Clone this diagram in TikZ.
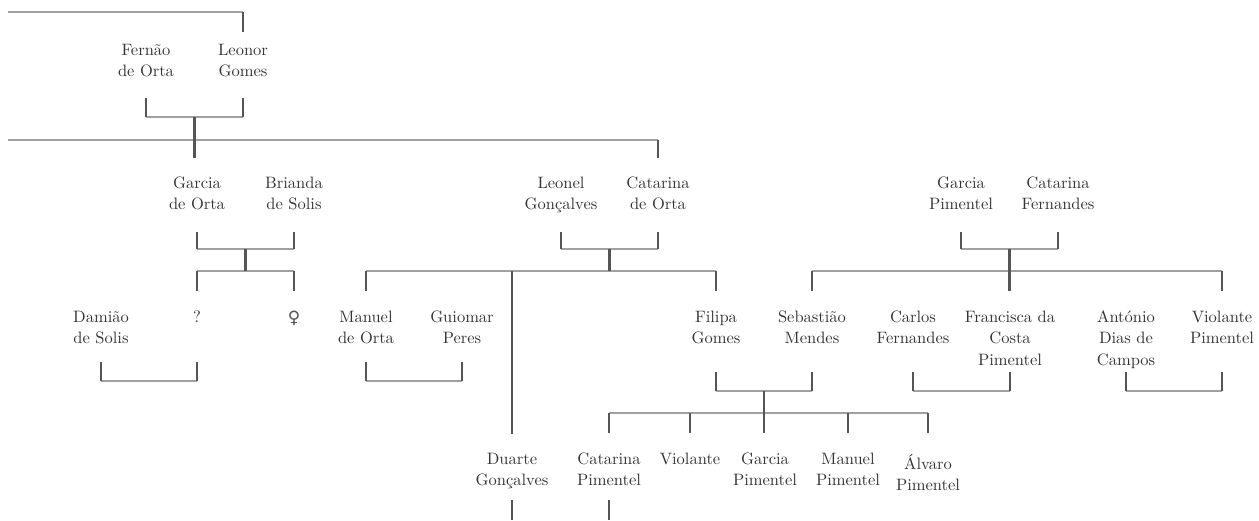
\documentclass[tikz,border=0pt]{standalone}
\usepackage{fontspec}
\setmainfont{lmroman10-regular.otf}
\newfontfamily\symfont{DejaVu Sans}
\usetikzlibrary{calc}
\definecolor{txt}{HTML}{333333}
\definecolor{hcol}{HTML}{A0A0A0}
\definecolor{vcol}{HTML}{555555}
\newcommand\fl{\rule{0pt}{14pt}}
\begin{document}
\begin{tikzpicture}[x=1pt,y=-1pt,
  person/.style={anchor=north,inner sep=0pt,align=center,text=txt,
    font=\fontsize{16.5}{21.5}\selectfont},
  hl/.style={draw=hcol,line width=2.5pt},
  vl/.style={draw=vcol,line width=2.7pt}]
\useasboundingbox (0,0) rectangle (1259,520);
% level coordinates
\foreach \v in {12,32,98,117,140,158,232,249,271,291,362,381,372,391,413,433,434,500,520}
  {\coordinate (L\v) at (0,\v);}
% persons (y = first baseline - 14)
\node[person] (fernao)   at (146,41)  {\fl Fernão\\de Orta};
\node[person] (leonor)   at (243,41)  {\fl Leonor\\Gomes};
\node[person] (garcia)   at (197,174) {\fl Garcia\\de Orta};
\node[person] (brianda)  at (294,174) {\fl Brianda\\de Solis};
\node[person] (leonel)   at (561,174) {\fl Leonel\\Gonçalves};
\node[person] (catorta)  at (658,174) {\fl Catarina\\de Orta};
\node[person] (garciap)  at (961,174) {\fl Garcia\\Pimentel};
\node[person] (catfern)  at (1058,174){\fl Catarina\\Fernandes};
\node[person] (damiao)   at (101,308) {\fl Damião\\de Solis};
\node[person] (unk)      at (197,308) {\fl ?};
\node[anchor=center,inner sep=0pt,text=txt!85,font=\symfont\fontsize{17}{17}\selectfont] (fem) at (294,318) {♀};
\node[person] (manuel)   at (366,308) {\fl Manuel\\de Orta};
\node[person] (guiomar)  at (462,308) {\fl Guiomar\\Peres};
\node[person] (filipa)   at (716,308) {\fl Filipa\\Gomes};
\node[person] (sebastiao)at (812,308) {\fl Sebastião\\Mendes};
\node[person] (carlos)   at (913,308) {\fl Carlos\\Fernandes};
\node[person] (francisca)at (1010,308){\fl Francisca da\\Costa\\Pimentel};
\node[person] (antonio)  at (1126,308){\fl António\\Dias de\\Campos};
\node[person] (violanteP)at (1222,308){\fl Violante\\Pimentel};
\node[person] (duarte)   at (512,450) {\fl Duarte\\Gonçalves};
\node[person] (catpim)   at (609,450) {\fl Catarina\\Pimentel};
\node[person] (violante) at (690,450) {\fl Violante};
\node[person] (garciapim)at (765,450) {\fl Garcia\\Pimentel};
\node[person] (manuelpim)at (848,450) {\fl Manuel\\Pimentel};
\node[person] (alvaro)   at (928,454) {\fl Álvaro\\Pimentel};
% midpoints
\coordinate (m1) at ($(fernao)!.5!(leonor)$);
\coordinate (m2) at ($(garcia)!.5!(brianda)$);
\coordinate (m3) at ($(leonel)!.5!(catorta)$);
\coordinate (m4) at ($(garciap)!.5!(catfern)$);
\coordinate (m5) at ($(filipa)!.5!(sebastiao)$);
\coordinate (topend) at (8,12);
\coordinate (midend) at (8,140);
% horizontal lines
\draw[hl] (topend) -- (leonor |- L12);
\draw[hl] (fernao |- L117) -- (leonor |- L117);
\draw[hl] (midend) -- (catorta |- L140);
\draw[hl] (garcia |- L249) -- (brianda |- L249);
\draw[hl] (unk |- L271) -- (fem |- L271);
\draw[hl] (damiao |- L381) -- (unk |- L381);
\draw[hl] (leonel |- L249) -- (catorta |- L249);
\draw[hl] (manuel |- L271) -- (filipa |- L271);
\draw[hl] (manuel |- L381) -- (guiomar |- L381);
\draw[hl] (garciap |- L249) -- (catfern |- L249);
\draw[hl] (sebastiao |- L271) -- (violanteP |- L271);
\draw[hl] (filipa |- L391) -- (sebastiao |- L391);
\draw[hl] (carlos |- L391) -- (francisca |- L391);
\draw[hl] (antonio |- L391) -- (violanteP |- L391);
\draw[hl] (catpim |- L413) -- (alvaro |- L413);
% vertical lines
\draw[vl] (leonor |- L12) -- (leonor |- L32);
\draw[vl] (fernao |- L98) -- (fernao |- L117);
\draw[vl] (leonor |- L98) -- (leonor |- L117);
\draw[vl] (m1 |- L117) -- (m1 |- L158);
\draw[vl] (catorta |- L140) -- (catorta |- L158);
\draw[vl] (garcia |- L232) -- (garcia |- L249);
\draw[vl] (brianda |- L232) -- (brianda |- L249);
\draw[vl] (m2 |- L249) -- (m2 |- L271);
\draw[vl] (unk |- L271) -- (unk |- L291);
\draw[vl] (fem |- L271) -- (fem |- L291);
\draw[vl] (damiao |- L362) -- (damiao |- L381);
\draw[vl] (unk |- L362) -- (unk |- L381);
\draw[vl] (leonel |- L232) -- (leonel |- L249);
\draw[vl] (catorta |- L232) -- (catorta |- L249);
\draw[vl] (m3 |- L249) -- (m3 |- L271);
\draw[vl] (manuel |- L271) -- (manuel |- L291);
\draw[vl] (duarte |- L271) -- (duarte |- L434);
\draw[vl] (filipa |- L271) -- (filipa |- L291);
\draw[vl] (manuel |- L362) -- (manuel |- L381);
\draw[vl] (guiomar |- L362) -- (guiomar |- L381);
\draw[vl] (garciap |- L232) -- (garciap |- L249);
\draw[vl] (catfern |- L232) -- (catfern |- L249);
\draw[vl] (m4 |- L249) -- (m4 |- L291);
\draw[vl] (sebastiao |- L271) -- (sebastiao |- L291);
\draw[vl] (violanteP |- L271) -- (violanteP |- L291);
\draw[vl] (filipa |- L372) -- (filipa |- L391);
\draw[vl] (sebastiao |- L372) -- (sebastiao |- L391);
\draw[vl] (carlos |- L372) -- (carlos |- L391);
\draw[vl] (francisca |- L372) -- (francisca |- L391);
\draw[vl] (antonio |- L372) -- (antonio |- L391);
\draw[vl] (violanteP |- L372) -- (violanteP |- L391);
\draw[vl] (m5 |- L391) -- (m5 |- L433);
\draw[vl] (catpim |- L413) -- (catpim |- L433);
\draw[vl] (violante |- L413) -- (violante |- L433);
\draw[vl] (manuelpim |- L413) -- (manuelpim |- L433);
\draw[vl] (alvaro |- L413) -- (alvaro |- L433);
\draw[vl] (duarte |- L500) -- (duarte |- L520);
\draw[vl] (catpim |- L500) -- (catpim |- L520);
\end{tikzpicture}
\end{document}
